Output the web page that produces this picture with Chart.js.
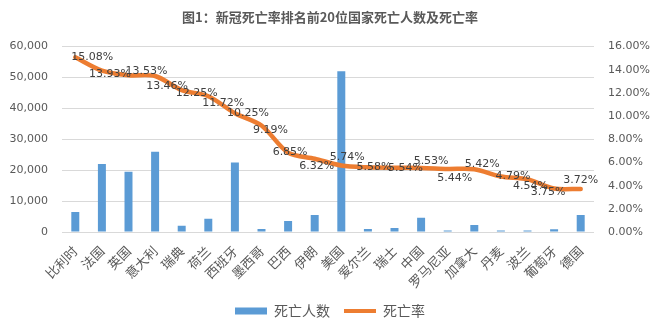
<!DOCTYPE html>
<html>
<head>
<meta charset="utf-8">
<script src="https://cdn.jsdelivr.net/npm/chart.js@4/dist/chart.umd.min.js"></script>
<style>
  html, body { margin: 0; padding: 0; background: #fff; }
  #wrap { width: 660px; height: 333px; }
</style>
</head>
<body>
<div id="wrap"><canvas id="death-chart"></canvas></div>
<script>
// data
const countries = ['比利时', '法国', '英国', '意大利', '瑞典', '荷兰', '西班牙', '墨西哥', '巴西', '伊朗',
  '美国', '爱尔兰', '瑞士', '中国', '罗马尼亚', '加拿大', '丹麦', '波兰', '葡萄牙', '德国'];

const deaths = [6500, 22000, 19500, 26000, 2000, 4300, 22500, 1000, 3600, 5500,
  52000, 1000, 1300, 4600, 450, 2300, 450, 500, 850, 5500];

const deathRate = [15.08, 13.93, 13.53, 13.46, 12.25, 11.72, 10.25, 9.19, 6.85, 6.32,
  5.74, 5.58, 5.54, 5.53, 5.44, 5.42, 4.79, 4.54, 3.75, 3.72];

const countTicks = [0, 10000, 20000, 30000, 40000, 50000, 60000];
const rateTicks = [0, 2, 4, 6, 8, 10, 12, 14, 16];

const numFont = { family: 'DejaVu Sans', size: 11 };
const cjkFont = { family: 'Noto Sans CJK SC', size: 13 };

// draws the % labels next to the line points
const rateLabels = {
  id: 'rateLabels',
  afterDatasetsDraw(chart, args, opts) {
    const meta = chart.getDatasetMeta(1);
    const ctx = chart.ctx;
    ctx.save();
    ctx.font = '11px "DejaVu Sans"';
    ctx.fillStyle = '#404040';
    ctx.textAlign = 'center';
    ctx.textBaseline = 'middle';
    meta.data.forEach((pt, i) => {
      const off = opts.offsets[i] || [0, 0];
      ctx.fillText(deathRate[i].toFixed(2) + '%', pt.x + off[0], pt.y + off[1]);
    });
    ctx.restore();
  }
};

const ctx = document.getElementById('death-chart').getContext('2d');

const deathChart = new Chart(ctx, {
  type: 'bar',
  data: {
    labels: countries,
    datasets: [{
      label: '死亡人数',
      data: deaths,
      backgroundColor: '#5B9BD5',
      borderWidth: 0,
      barPercentage: 0.3,
      categoryPercentage: 1,
      pointStyle: 'rect',
      yAxisID: 'y',
      order: 1
    }, {
      type: 'line',
      label: '死亡率',
      data: deathRate,
      borderColor: '#ED7D31',
      backgroundColor: '#ED7D31',
      borderWidth: 4.5,
      borderCapStyle: 'round',
      borderJoinStyle: 'round',
      tension: 0.3,
      pointRadius: 0,
      pointHoverRadius: 0,
      pointStyle: 'line',
      pointBorderWidth: 4,
      yAxisID: 'y1',
      order: 0
    }]
  },
  options: {
    responsive: true,
    maintainAspectRatio: false,
    animation: false,
    layout: { padding: { left: 0, right: 0, top: 0, bottom: 5 } },
    scales: {
      x: {
        grid: { display: false },
        border: { display: false },
        ticks: {
          color: '#595959',
          font: cjkFont,
          autoSkip: false,
          minRotation: 45,
          maxRotation: 45,
          padding: 3
        },
        afterFit: scale => { scale.height = 58; }
      },
      y: {
        position: 'left',
        min: 0,
        max: 60000,
        afterBuildTicks: scale => { scale.ticks = countTicks.map(v => ({ value: v })); },
        grid: { color: '#D9D9D9', drawTicks: false },
        border: { display: false },
        ticks: {
          color: '#595959',
          font: numFont,
          padding: 14,
          callback: v => v.toLocaleString('en-US')
        },
        afterFit: scale => { scale.width = 62; }
      },
      y1: {
        position: 'right',
        min: 0,
        max: 16,
        afterBuildTicks: scale => { scale.ticks = rateTicks.map(v => ({ value: v })); },
        grid: { display: false, drawTicks: false },
        border: { display: false },
        ticks: {
          color: '#595959',
          font: numFont,
          padding: 14,
          callback: v => v.toFixed(2) + '%'
        },
        afterFit: scale => { scale.width = 66; }
      }
    },
    plugins: {
      title: {
        display: true,
        text: '图1：新冠死亡率排名前20位国家死亡人数及死亡率',
        color: '#595959',
        font: { family: 'Noto Sans CJK SC', size: 13, weight: 'bold' },
        padding: { top: 9, bottom: 22 }
      },
      legend: {
        position: 'bottom',
        labels: {
          usePointStyle: true,
          pointStyleWidth: 32,
          boxHeight: 7,
          color: '#595959',
          font: { family: 'Noto Sans CJK SC', size: 14 },
          padding: 14,
          sort: (a, b) => a.datasetIndex - b.datasetIndex
        }
      },
      tooltip: { enabled: false },
      rateLabels: {
        offsets: [[17, 0], [8, 4], [18, -4], [12, 10], [15, 3], [15, 7], [13, 0], [9, 5], [2, 0], [2, 7],
          [6, -8], [6, 0], [11, 0], [10, -7], [7, 9], [8, -5], [12, 0], [3, 7], [-6, 4], [0, -9]]
      }
    }
  },
  plugins: [rateLabels]
});
</script>
</body>
</html>
